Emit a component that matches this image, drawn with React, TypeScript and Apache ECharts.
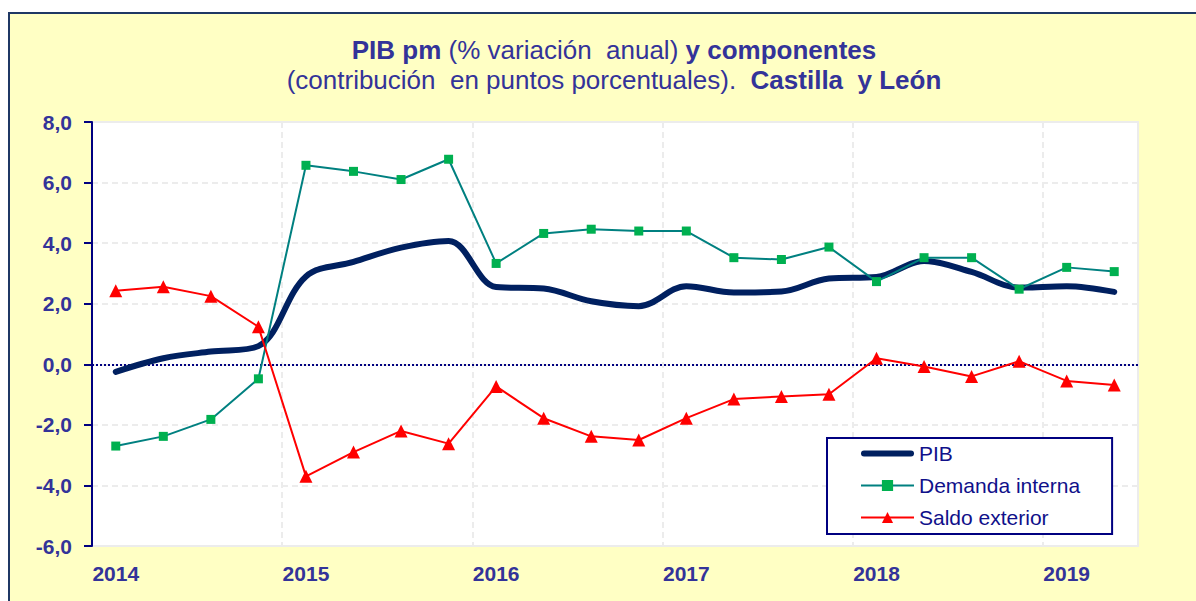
import React, { useEffect, useRef } from "react";
import * as echarts from "echarts";

const categories = [
  "2014 T1", "2014 T2", "2014 T3", "2014 T4",
  "2015 T1", "2015 T2", "2015 T3", "2015 T4",
  "2016 T1", "2016 T2", "2016 T3", "2016 T4",
  "2017 T1", "2017 T2", "2017 T3", "2017 T4",
  "2018 T1", "2018 T2", "2018 T3", "2018 T4",
  "2019 T1", "2019 T2",
];

const pib = [-0.25, 0.2, 0.42, 0.6, 2.9, 3.38, 3.85, 4.07, 2.55, 2.5, 2.08, 1.92, 2.58, 2.37, 2.4, 2.83, 2.88, 3.41, 3.05, 2.53, 2.58, 2.39];
const demandaInterna = [-2.7, -2.38, -1.82, -0.48, 6.57, 6.37, 6.1, 6.77, 3.33, 4.32, 4.46, 4.4, 4.4, 3.52, 3.46, 3.87, 2.73, 3.52, 3.52, 2.48, 3.2, 3.06];
const saldoExterior = [2.43, 2.56, 2.25, 1.24, -3.7, -2.9, -2.2, -2.62, -0.73, -1.78, -2.38, -2.5, -1.78, -1.15, -1.06, -0.99, 0.2, -0.07, -0.4, 0.1, -0.55, -0.68];

const yMin = -6;
const yMax = 8;
const yInterval = 2;

const titleLine1 = "{b|PIB pm} (% variación  anual) {b|y componentes}";
const titleLine2 = "(contribución  en puntos porcentuales).  {b|Castilla  y León}";

const FONT = "'Liberation Sans', Arial, sans-serif";
const TEXT_BLUE = "#333399";
const NAVY = "#000080";

export default function App() {
  const ref = useRef<HTMLDivElement>(null);
  useEffect(() => {
    if (!ref.current) return;
    const chart = echarts.init(ref.current, undefined, { renderer: "svg" });
    const richB = { b: { fontWeight: "bold", fontSize: 26, fontFamily: FONT, fill: TEXT_BLUE, color: TEXT_BLUE } };
    chart.setOption({
      animation: false,
      backgroundColor: "#FFFFC4",
      textStyle: { fontFamily: FONT },
      graphic: [
        {
          type: "text",
          x: 604,
          y: 36,
          style: {
            text: titleLine1,
            rich: richB,
            fontSize: 26,
            fontFamily: FONT,
            fill: TEXT_BLUE,
            align: "center",
            verticalAlign: "middle",
          },
        },
        {
          type: "text",
          x: 604,
          y: 66,
          style: {
            text: titleLine2,
            rich: richB,
            fontSize: 26,
            fontFamily: FONT,
            fill: TEXT_BLUE,
            align: "center",
            verticalAlign: "middle",
          },
        },
      ],
      grid: {
        left: 82,
        top: 108,
        width: 1046,
        height: 424,
        show: true,
        backgroundColor: "#ffffff",
        borderColor: "#ececec",
        borderWidth: 2,
      },
      legend: {
        orient: "vertical",
        left: 817,
        top: 424,
        backgroundColor: "#ffffff",
        borderColor: NAVY,
        borderWidth: 2,
        borderRadius: 0,
        padding: [5, 32, 6, 33],
        itemWidth: 53,
        itemHeight: 14,
        itemGap: 11,
        textStyle: { fontSize: 21, color: "#10108a", fontFamily: FONT },
        data: [
          { name: "PIB", icon: "path://M3,0 L50,0 A3,3 0 0 1 50,6 L3,6 A3,3 0 0 1 3,0 Z", itemStyle: { color: "#002060" } },
          "Demanda interna",
          "Saldo exterior",
        ],
      },
      xAxis: {
        type: "category",
        data: categories,
        boundaryGap: true,
        axisLine: { show: false },
        axisTick: { show: false },
        axisLabel: {
          interval: 3,
          margin: 17,
          fontSize: 21,
          fontWeight: "bold",
          color: TEXT_BLUE,
          fontFamily: FONT,
          formatter: (v: string) => v.slice(0, 4),
        },
        splitLine: {
          show: true,
          interval: 3,
          lineStyle: { color: "#ececec", width: 2, type: [6, 4] },
        },
      },
      yAxis: {
        type: "value",
        min: yMin,
        max: yMax,
        interval: yInterval,
        axisLine: { show: true, lineStyle: { color: NAVY, width: 2 } },
        axisTick: { show: true, length: 8, lineStyle: { color: NAVY, width: 2 } },
        axisLabel: {
          margin: 20,
          fontSize: 21,
          fontWeight: "bold",
          color: TEXT_BLUE,
          fontFamily: FONT,
          formatter: (v: number) => v.toFixed(1).replace(".", ","),
        },
        splitLine: { show: true, lineStyle: { color: "#ececec", width: 2, type: [6, 4] } },
      },
      series: [
        {
          name: "PIB",
          type: "line",
          data: pib,
          smooth: 0.35,
          showSymbol: false,
          symbol: "none",
          lineStyle: { color: "#002060", width: 6, cap: "round" },
          itemStyle: { color: "#002060" },
          z: 2,
          markLine: {
            silent: true,
            symbol: "none",
            label: { show: false },
            lineStyle: { color: NAVY, type: "dotted", width: 2 },
            data: [{ yAxis: 0 }],
            z: 1,
          },
        },
        {
          name: "Demanda interna",
          type: "line",
          data: demandaInterna,
          symbol: "rect",
          symbolSize: 9,
          lineStyle: { color: "#008080", width: 2 },
          itemStyle: { color: "#00B050" },
          z: 3,
        },
        {
          name: "Saldo exterior",
          type: "line",
          data: saldoExterior,
          symbol: "triangle",
          symbolSize: 13,
          lineStyle: { color: "#FF0000", width: 2 },
          itemStyle: { color: "#FF0000" },
          z: 4,
        },
      ],
    });
    return () => chart.dispose();
  }, []);

  return (
    <div
      style={{
        position: "fixed",
        left: 8,
        top: 12,
        width: 1188,
        height: 589,
        borderTop: "2px solid #1F3864",
        borderLeft: "2px solid #1F3864",
        boxSizing: "border-box",
        overflow: "hidden",
      }}
    >
      <div ref={ref} style={{ width: 1186, height: 587 }} />
    </div>
  );
}
